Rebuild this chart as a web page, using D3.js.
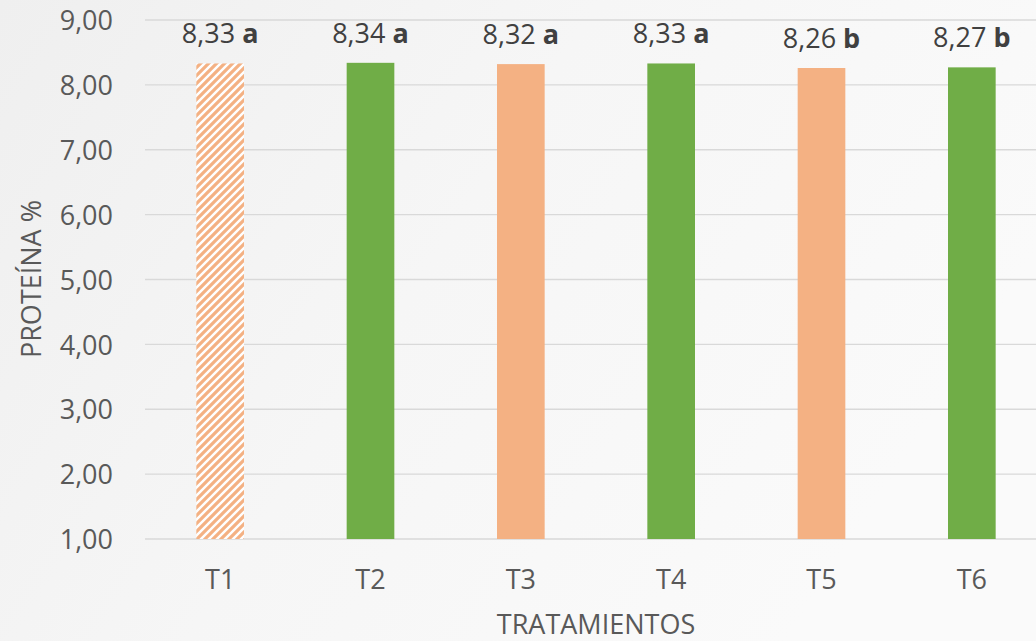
<!DOCTYPE html>
<html>
<head>
<meta charset="utf-8">
<script src="https://cdn.jsdelivr.net/npm/d3@7"></script>
<style>
  html, body { margin: 0; padding: 0; background: #f5f5f5; }
  svg { display: block; }
</style>
</head>
<body>
<svg id="chart" width="1036" height="641"></svg>
<script>
// Protein content per treatment, with significance letters
const categories = ["T1", "T2", "T3", "T4", "T5", "T6"];
const proteina = [8.33, 8.34, 8.32, 8.33, 8.26, 8.27];
const letras = ["a", "a", "a", "a", "b", "b"];
const fills = ["stripes", "green", "orange", "green", "orange", "green"];
const yTicks = [1, 2, 3, 4, 5, 6, 7, 8, 9];

const W = 1036, H = 641;
const margin = { left: 145, right: -11, top: 20, bottom: 102 };
const svg = d3.select("#chart");
const defs = svg.append("defs");

// soft light-gray backdrop
const bg = defs.append("linearGradient").attr("id", "bg")
  .attr("x1", "0").attr("y1", "0").attr("x2", "1").attr("y2", "0.4");
bg.append("stop").attr("offset", "0").attr("stop-color", "#efefef");
bg.append("stop").attr("offset", "0.5").attr("stop-color", "#f6f6f6");
bg.append("stop").attr("offset", "1").attr("stop-color", "#fafafa");
svg.append("rect").attr("width", W).attr("height", H).attr("fill", "url(#bg)");

// diagonal orange hatch for the control treatment
const pat = defs.append("pattern").attr("id", "hatch")
  .attr("patternUnits", "userSpaceOnUse").attr("width", 8).attr("height", 8);
pat.append("rect").attr("width", 8).attr("height", 8).attr("fill", "#ffffff");
pat.append("path")
  .attr("d", "M-2,2 L2,-2 M0,8 L8,0 M6,10 L10,6")
  .attr("stroke", "#F4B183").attr("stroke-width", 3.2);

const colorOf = { green: "#70AD47", orange: "#F4B183", stripes: "url(#hatch)" };

const x = d3.scaleBand().domain(categories)
  .range([margin.left, W - margin.right])
  .paddingInner(0.683).paddingOuter(0.3415);
const y = d3.scaleLinear().domain([1, 9]).range([H - margin.bottom, margin.top]);

const font = "'Open Sans', sans-serif";

// horizontal gridlines
svg.append("g").selectAll("line").data(yTicks).join("line")
  .attr("x1", margin.left).attr("x2", W - margin.right)
  .attr("y1", d => y(d)).attr("y2", d => y(d))
  .attr("stroke", "#d9d9d9").attr("stroke-width", 1.3);

// y axis labels
const yAxis = d3.axisLeft(y).tickValues(yTicks)
  .tickFormat(d => d3.format(".2f")(d).replace(".", ","))
  .tickSize(0).tickPadding(32);
const gy = svg.append("g").attr("transform", `translate(${margin.left},0)`).call(yAxis);
gy.select(".domain").remove();
gy.selectAll("text").attr("font-family", font).attr("font-size", 27)
  .attr("fill", "#595959").attr("dy", "0.36em");

// bars
svg.append("g").selectAll("rect").data(categories).join("rect")
  .attr("x", d => x(d))
  .attr("width", x.bandwidth())
  .attr("y", (d, i) => y(proteina[i]))
  .attr("height", (d, i) => y(1) - y(proteina[i]))
  .attr("fill", (d, i) => colorOf[fills[i]]);

// value labels with significance letter
const lab = svg.append("g").selectAll("text").data(categories).join("text")
  .attr("x", d => x(d) + x.bandwidth() / 2)
  .attr("y", (d, i) => y(proteina[i]) - 20)
  .attr("text-anchor", "middle")
  .attr("font-family", font).attr("font-size", 27).attr("fill", "#404040");
lab.append("tspan").text((d, i) => d3.format(".2f")(proteina[i]).replace(".", ",") + " ");
lab.append("tspan").attr("font-weight", "bold").text((d, i) => letras[i]);

// x axis labels
const xAxis = d3.axisBottom(x).tickSize(0).tickPadding(31);
const gx = svg.append("g").attr("transform", `translate(0,${y(1)})`).call(xAxis);
gx.select(".domain").remove();
gx.selectAll("text").attr("font-family", font).attr("font-size", 27).attr("fill", "#595959");

// axis titles
svg.append("text").attr("x", 596).attr("y", 634)
  .attr("text-anchor", "middle").attr("font-family", font).attr("font-size", 27)
  .attr("fill", "#595959").text("TRATAMIENTOS");
svg.append("text")
  .attr("transform", "translate(41,279) rotate(-90)")
  .attr("text-anchor", "middle").attr("font-family", font).attr("font-size", 27)
  .attr("fill", "#595959").text("PROTEÍNA %");
</script>
</body>
</html>
